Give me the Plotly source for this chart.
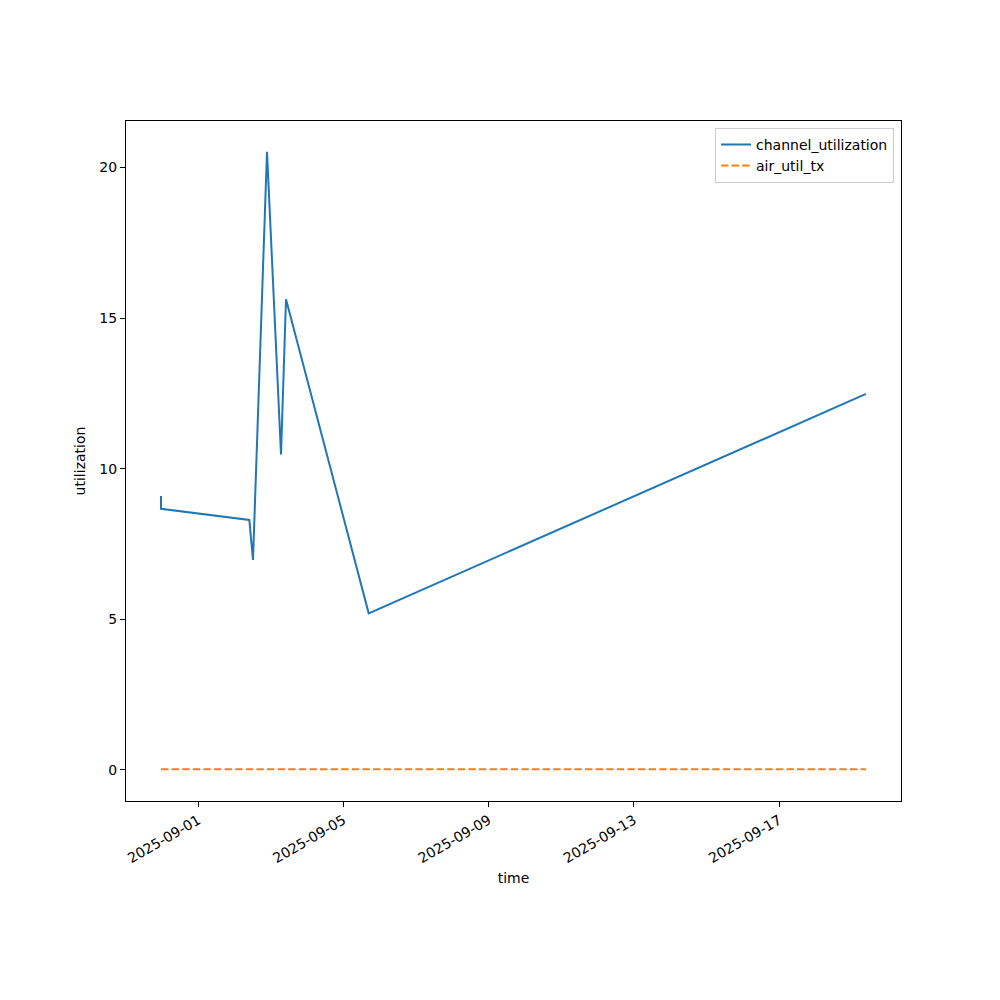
import plotly.graph_objects as go

times = [
    "2025-08-30 23:20", "2025-08-30 23:21", "2025-09-02 09:43", "2025-09-02 12:09",
    "2025-09-02 21:24", "2025-09-03 06:40", "2025-09-03 09:58", "2025-09-05 16:38",
    "2025-09-19 09:20",
]
channel_utilization = [9.09, 8.67, 8.30, 6.97, 20.52, 10.47, 15.62, 5.20, 12.48]
air_util_tx = [0.02, 0.02, 0.02, 0.02, 0.02, 0.02, 0.02, 0.02, 0.02]

x_ticks = ["2025-09-01", "2025-09-05", "2025-09-09", "2025-09-13", "2025-09-17"]
y_ticks = [0, 5, 10, 15, 20]

font = dict(family="DejaVu Sans", size=14, color="black")

fig = go.Figure()
fig.add_trace(go.Scatter(x=times, y=channel_utilization, mode="lines",
                         name="channel_utilization",
                         line=dict(color="#1f77b4", width=2)))
fig.add_trace(go.Scatter(x=times, y=air_util_tx, mode="lines",
                         name="air_util_tx",
                         line=dict(color="#ff7f0e", width=2, dash="7.4px,3.2px")))

fig.update_layout(
    width=1000, height=1000,
    margin=dict(l=118, r=107, t=113, b=207),
    paper_bgcolor="white", plot_bgcolor="white",
    font=font,
    showlegend=True,
    legend=dict(x=0.991, y=0.99, xanchor="right", yanchor="top",
                bordercolor="#cccccc", borderwidth=1, bgcolor="rgba(255,255,255,0.8)",
                font=font, tracegroupgap=0),
)
fig.update_xaxes(
    type="date",
    range=["2025-08-30 00:12", "2025-09-20 08:30"],
    tickvals=x_ticks, ticktext=x_ticks,
    tickangle=-30,
    showgrid=False, zeroline=False,
    showline=True, mirror=True, linecolor="black", linewidth=1,
    ticks="outside", ticklen=5, tickcolor="black",
    title=dict(text="time", font=font, standoff=8),
)
fig.update_yaxes(
    range=[-1.03, 21.54],
    tickvals=y_ticks,
    showgrid=False, zeroline=False,
    showline=True, mirror=True, linecolor="black", linewidth=1,
    ticks="outside", ticklen=5, tickcolor="black",
    title=dict(text="utilization", font=font, standoff=10),
)

fig.write_html("out.html")
